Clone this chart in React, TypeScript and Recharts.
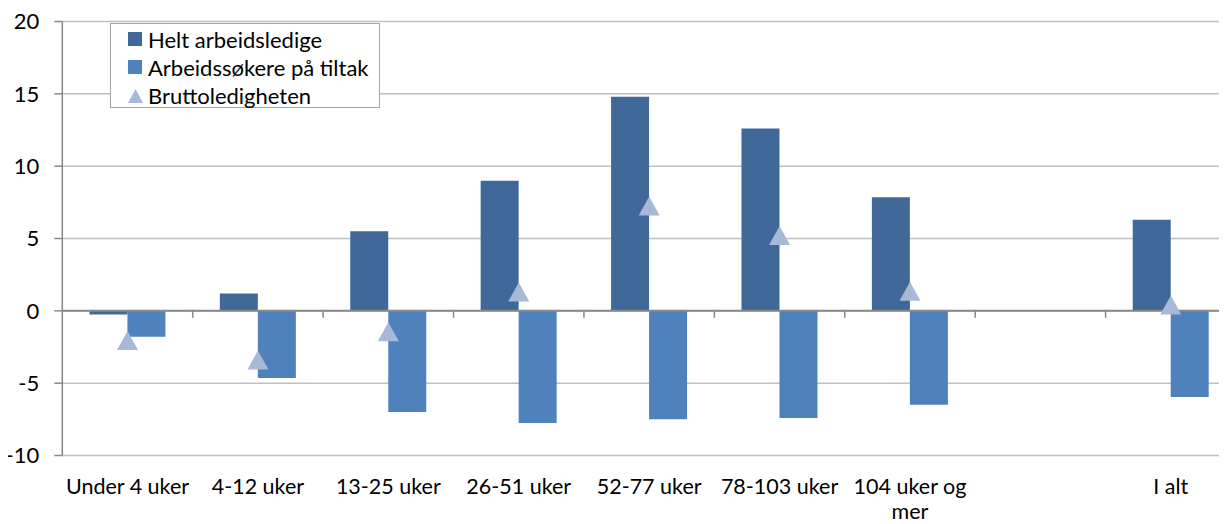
import React from 'react';
import { ComposedChart, Bar, Line, XAxis, YAxis, CartesianGrid, ReferenceLine, Legend } from 'recharts';

const categories = ['Under 4 uker', '4-12 uker', '13-25 uker', '26-51 uker', '52-77 uker', '78-103 uker', '104 uker og\nmer', '', 'I alt'];
const heltArbeidsledige = [-0.25, 1.2, 5.5, 9.0, 14.8, 12.6, 7.85, null, 6.3];
const tiltak = [-1.8, -4.65, -7.0, -7.75, -7.5, -7.4, -6.5, null, -5.95];
const brutto = [-2.05, -3.4, -1.45, 1.3, 7.25, 5.2, 1.35, null, 0.4];
const yTicks = [-10, -5, 0, 5, 10, 15, 20];
const seriesNames = ['Helt arbeidsledige', 'Arbeidssøkere på tiltak', 'Bruttoledigheten'];

const DARK = '#40699A';
const LIGHT = '#4F81BD';
const TRI = '#A7B8D8';

const data = categories.map((c, i) => ({
  cat: c,
  helt: heltArbeidsledige[i],
  tiltak: tiltak[i],
  brutto: brutto[i],
}));

const FONT = 'Lato, "Open Sans", sans-serif';

const XTick = (props: any) => {
  const { x, y, payload } = props;
  const lines = String(payload.value).split('\n');
  return (
    <g>
      {lines.map((l: string, i: number) => (
        <text
          key={i}
          x={x}
          y={y + 30.5 + i * 25.8}
          dy="0.35em"
          textAnchor="middle"
          fill="#000"
          fontSize={21.5}
          fontFamily={FONT}
        >
          {l}
        </text>
      ))}
    </g>
  );
};

const ZeroLine = (p: any) => {
  const { x1, y1, x2 } = p;
  const n = categories.length;
  const step = (x2 - x1) / n;
  const ticks = [];
  for (let i = 1; i < n; i++) {
    const xx = x1 + i * step;
    ticks.push(<line key={i} x1={xx} x2={xx} y1={y1} y2={y1 + 7} stroke="#888" strokeWidth={1.5} />);
  }
  return (
    <g>
      <line x1={x1} x2={x2} y1={y1} y2={y1} stroke="#888" strokeWidth={2} />
      {ticks}
    </g>
  );
};

const TriDot = (props: any) => {
  const { cx, cy, payload } = props;
  if (cx == null || cy == null || payload.brutto == null) return <g key={props.index} />;
  return (
    <polygon
      key={props.index}
      points={`${cx - 10.5},${cy + 9.5} ${cx},${cy - 9.5} ${cx + 10.5},${cy + 9.5}`}
      fill={TRI}
    />
  );
};

const LegendContent = () => (
  <div
    style={{
      width: 268,
      height: 82,
      border: '1.5px solid #A6A6A6',
      background: '#fff',
      fontFamily: FONT,
      fontSize: 22,
      color: '#000',
      boxSizing: 'content-box',
      paddingTop: 1,
    }}
  >
    {seriesNames.map((name, i) => (
      <div key={name} style={{ display: 'flex', alignItems: 'center', height: 28.3, paddingLeft: 17 }}>
        {i < 2 ? (
          <span style={{ display: 'inline-block', width: 14, height: 14, background: i === 0 ? DARK : LIGHT, marginRight: 6 }} />
        ) : (
          <svg width={15} height={14} style={{ marginRight: 5 }}>
            <polygon points="0,14 7.5,0 15,14" fill={TRI} />
          </svg>
        )}
        <span style={{ whiteSpace: 'nowrap' }}>{name}</span>
      </div>
    ))}
  </div>
);

export default function App() {
  return (
    <div style={{ position: 'relative', width: 1227, height: 524, overflow: 'hidden', marginLeft: -8, marginTop: -8, background: '#fff', fontFamily: FONT }}>
      <ComposedChart
        width={1250}
        height={524}
        data={data}
        margin={{ top: 21.5, right: 14, bottom: 0, left: 0 }}
        barCategoryGap="20.8%"
        barGap={0}
      >
        <CartesianGrid vertical={false} stroke="#BFBFBF" strokeWidth={1.5} />
        <XAxis
          dataKey="cat"
          axisLine={false}
          tickLine={false}
          tickSize={0}
          tickMargin={0}
          height={68.5}
          interval={0}
          tick={<XTick />}
        />
        <YAxis
          width={62.3}
          domain={[-10, 20]}
          ticks={yTicks}
          interval={0}
          axisLine={{ stroke: '#888', strokeWidth: 1.5 }}
          tickLine={{ stroke: '#888', strokeWidth: 1.5 }}
          tickSize={8}
          tickMargin={15}
          tick={{ fill: '#000', fontSize: 22, fontFamily: FONT }}
        />
        <Bar dataKey="helt" name={seriesNames[0]} fill={DARK} isAnimationActive={false} />
        <Bar dataKey="tiltak" name={seriesNames[1]} fill={LIGHT} isAnimationActive={false} />
        <ReferenceLine y={0} shape={<ZeroLine />} />
        <Line
          dataKey="brutto"
          name={seriesNames[2]}
          stroke="none"
          dot={<TriDot />}
          activeDot={false}
          isAnimationActive={false}
        />
        <Legend
          layout="vertical"
          align="center"
          verticalAlign="middle"
          content={<LegendContent />}
          wrapperStyle={{ left: 110, top: 23, width: 272, height: 88 }}
        />
      </ComposedChart>
    </div>
  );
}
